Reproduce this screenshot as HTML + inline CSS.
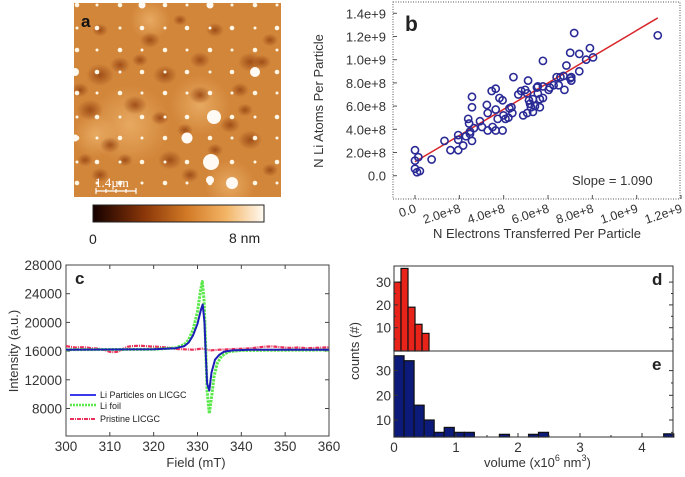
<!DOCTYPE html>
<html><head><meta charset="utf-8"><style>
body{margin:0;background:#fff;}
svg{display:block;font-family:"Liberation Sans",Arial,sans-serif;}
</style></head><body>
<svg id="fig" width="685" height="477" viewBox="0 0 685 477" xmlns="http://www.w3.org/2000/svg">
<defs>
<linearGradient id="cbar" x1="0" x2="1" y1="0" y2="0">
<stop offset="0" stop-color="#140000"/><stop offset="0.3" stop-color="#8a3608"/>
<stop offset="0.55" stop-color="#d27a26"/><stop offset="0.78" stop-color="#f3b566"/>
<stop offset="1" stop-color="#fffaf2"/></linearGradient>
<radialGradient id="dark"><stop offset="0" stop-color="#9a4814" stop-opacity="0.9"/><stop offset="1" stop-color="#9a4814" stop-opacity="0"/></radialGradient>
<radialGradient id="light"><stop offset="0" stop-color="#f0b870" stop-opacity="0.7"/><stop offset="1" stop-color="#f0b870" stop-opacity="0"/></radialGradient>
<clipPath id="afmclip"><rect x="74" y="3" width="207" height="194"/></clipPath>
<clipPath id="bclip"><rect x="393" y="2" width="287" height="197"/></clipPath>
<clipPath id="cclip"><rect x="66" y="265" width="263" height="171"/></clipPath>
</defs>

<!-- Panel a -->
<g id="afm" clip-path="url(#afmclip)">
<rect x="74" y="3" width="207" height="194" fill="#d2863a"/>
</g>
<text x="81" y="27" font-size="17" font-weight="bold" fill="#111">a</text>
<g>
<text x="95" y="187" font-size="13" fill="#fff" font-family="Liberation Serif,serif">1.4µm</text>
<path d="M96 191 H136 M96 188 V194 M106 189 V193 M116 189 V193 M126 189 V193 M136 188 V194" stroke="#fff" stroke-width="1.2"/>
</g>
<rect x="93" y="205" width="171" height="17" fill="url(#cbar)" stroke="#222" stroke-width="1"/>
<text x="89" y="244" font-size="14" fill="#222">0</text>
<text x="229" y="243" font-size="14" fill="#222">8 nm</text>

<!-- Panel b -->
<rect x="393" y="2" width="287" height="197" fill="none" stroke="#555" stroke-width="1" stroke-dasharray="1,1.5"/>
<g id="bAxes"></g>
<g id="bMarks" clip-path="url(#bclip)"></g>
<text x="405" y="31" font-size="21" font-weight="bold" fill="#222">b</text>
<text x="572" y="185" font-size="13" fill="#333">Slope = 1.090</text>
<text transform="translate(323,101) rotate(-90)" text-anchor="middle" font-size="13" fill="#333">N Li Atoms Per Particle</text>
<text x="537" y="238" text-anchor="middle" font-size="13" fill="#333">N Electrons Transferred Per Particle</text>

<!-- Panel c -->
<rect x="66" y="265" width="263" height="171" fill="none" stroke="#444" stroke-width="1"/>
<g id="cAxes"></g>
<g id="cMarks" clip-path="url(#cclip)"></g>
<text x="75" y="284" font-size="17" font-weight="bold" fill="#222">c</text>
<text transform="translate(18,351) rotate(-90)" text-anchor="middle" font-size="13" fill="#333">Intensity (a.u.)</text>
<text x="196" y="467" text-anchor="middle" font-size="13" fill="#333">Field (mT)</text>
<g>
<line x1="70" y1="395" x2="96" y2="395" stroke="#3a3ae8" stroke-width="2"/>
<text x="100" y="398" font-size="9" fill="#222">Li Particles on LICGC</text>
<line x1="70" y1="405" x2="96" y2="405" stroke="#5be84a" stroke-width="2.5" stroke-dasharray="2,1"/>
<text x="100" y="409" font-size="9" fill="#222">Li foil</text>
<line x1="70" y1="419" x2="96" y2="419" stroke="#e8305a" stroke-width="2" stroke-dasharray="4,1,1,1"/>
<text x="100" y="422" font-size="9" fill="#222">Pristine LICGC</text>
</g>

<!-- Panels d/e -->
<g id="deMarks"></g>
<rect x="394" y="266" width="279" height="85" fill="none" stroke="#333" stroke-width="1"/>
<rect x="394" y="351" width="279" height="86" fill="none" stroke="#333" stroke-width="1"/>
<g id="deAxes"></g>
<text x="652" y="285" font-size="17" font-weight="bold" fill="#222">d</text>
<text x="652" y="370" font-size="17" font-weight="bold" fill="#222">e</text>
<text transform="translate(359,351) rotate(-90)" text-anchor="middle" font-size="13" fill="#333">counts (#)</text>
<text x="484" y="467" font-size="13" fill="#333">volume (x10<tspan dy="-6" font-size="9">6</tspan><tspan dy="6"> nm</tspan><tspan dy="-6" font-size="9">3</tspan><tspan dy="6">)</tspan></text>
</svg>
<script>
// ---- Panel b data (units of 1e8) ----
const bX = [0,0,0,0.09,0.22,0.15,0.75,1.33,1.6,1.95,1.95,1.95,2.17,2.4,2.44,2.48,2.48,2.57,2.57,2.57,2.3,2.66,2.93,3.02,3.28,3.24,3.28,3.46,3.64,3.5,3.64,3.64,3.73,3.81,3.95,3.95,3.99,4.08,4.21,4.26,4.35,4.39,4.44,4.66,4.79,4.88,4.97,5.06,5.06,5.1,5.14,5.19,5.23,5.32,5.32,5.41,5.5,5.54,5.63,5.63,5.54,5.77,5.77,5.77,6.03,6.08,6.25,6.48,6.39,6.56,6.7,6.74,7.05,7.05,7.0,7.18,7.0,6.83,7.41,7.41,7.72,7.89,8.03,10.95];
const bY = [2.2,1.3,0.6,0.3,0.4,1.6,1.4,3.0,2.2,2.2,3.5,3.1,2.6,4.9,4.5,3.8,3.6,6.8,5.9,3.0,3.4,4.1,4.7,4.2,3.9,6.1,5.4,7.3,7.5,4.2,3.9,5.7,4.9,6.7,6.5,3.9,5.2,4.9,5.0,5.8,5.9,5.4,8.5,7.0,7.3,5.2,7.4,5.4,7.1,8.2,6.5,6.2,5.9,5.5,6.6,6.0,7.6,7.1,6.6,5.9,7.7,7.7,6.7,9.9,7.4,7.6,7.8,7.8,8.5,8.5,8.6,7.4,8.5,8.2,8.4,12.3,10.6,9.5,10.5,9.0,10.0,11.0,10.2,12.1];
const fitX = [0,10.95];
const fitY = [1.2,13.6];
const bYTicks = [0,2,4,6,8,10,12,14];
const bYTickLabels = ["0.0","2.0e+8","4.0e+8","6.0e+8","8.0e+8","1.0e+9","1.2e+9","1.4e+9"];
const bXTicks = [0,2,4,6,8,10,12];
const bXTickLabels = ["0.0","2.0e+8","4.0e+8","6.0e+8","8.0e+8","1.0e+9","1.2e+9"];

// ---- Panel c data ----
const blueF = [300,320,325,327,328,329,330,330.8,331.2,331.6,331.9,332.2,332.7,333.2,334,335,336,338,342,360];
const blueI = [16200,16250,16400,16700,17200,18200,19800,21800,22500,20000,15500,11500,10500,13000,14800,15500,15900,16100,16200,16200];
const greenF = [300,320,325,327,328,329,330,330.7,331.1,331.5,331.9,332.2,332.7,333.2,333.8,334.5,335.5,337,340,360];
const greenI = [16200,16250,16450,16900,17600,19000,21500,24500,25700,23000,16000,10500,7300,9500,12500,14300,15300,15900,16100,16150];
const redF = [300,302,304,306,308,309,310,311,312,313,314,315,317,319,321,323,325,327,329,331,333,335,337,339,341,343,345,347,349,351,353,355,357,360];
const redI = [16700,16500,16550,16400,16300,16100,15900,15850,15950,16300,16600,16700,16750,16650,16600,16500,16300,16250,16200,16350,16100,16200,16250,16300,16350,16450,16600,16650,16550,16450,16500,16400,16450,16550];
const cXTicks = [300,310,320,330,340,350,360];
const cYTicks = [8000,12000,16000,20000,24000,28000];

// ---- Panels d/e data ----
const dBinStart = [0,0.113,0.226,0.339,0.452];
const dCounts = [30,36,19,11.5,7.5];
const dBinWidth = 0.113;
const eBinStart = [0,0.162,0.324,0.486,0.648,0.81,0.972,1.134,1.70,2.17,2.33,4.35];
const eCounts = [36,34,16,10,5,7,5,5,4.2,4.2,5,4.4];
const eBinWidth = 0.162;
const deXTicks = [0,1,2,3,4];
const dYTicks = [10,20,30];
const eYTicks = [10,20,30];

const NS = "http://www.w3.org/2000/svg";
function mk(tag, attrs, parent){const e=document.createElementNS(NS,tag);for(const k in attrs)e.setAttribute(k,attrs[k]);parent.appendChild(e);return e;}

// Panel a texture (decorative image, not chart data)
(function(){
  const g=document.getElementById('afm');
  const lights=[[130,125,40],[200,105,30],[95,135,22],[230,185,25],[150,20,20]];
  lights.forEach(d=>mk('circle',{cx:d[0],cy:d[1],r:d[2],fill:'url(#light)'},g));
  const darks=[[100,75,14],[120,65,10],[165,75,12],[200,60,10],[250,62,12],[240,90,9],[90,110,13],[135,105,12],[200,95,11],[230,125,10],[110,145,10],[170,160,12],[250,140,12],[150,40,10],[215,30,9],[100,175,9],[270,170,8],[185,130,8],[262,62,9],[80,90,9],[125,160,8],[160,118,9],[245,110,8],[270,40,8],[100,30,8],[190,175,9],[140,60,8],[215,150,8],[85,160,8],[180,20,7]];
  darks.forEach(d=>mk('ellipse',{cx:d[0],cy:d[1],rx:d[2],ry:d[2]*0.8,fill:'url(#dark)'},g));
  const cols=[77,97,120,142,165,187,210,232,255,277];
  const rows=[5,28,50,72,93,117,138,162,183];
  rows.forEach((y,ri)=>cols.forEach((x,ci)=>{
    const r=((ri+ci)%2===0)?2.3:1.5;
    mk('circle',{cx:x,cy:y,r:r,fill:'#fff6e6'},g);
  }));
  [[255,72,5],[214,117,7],[187,138,5.5],[211,162,8],[232,183,6],[210,180,4],[142,5,3.5],[210,5,3.5],[75,72,4],[75,138,3.5]].forEach(d=>mk('circle',{cx:d[0],cy:d[1],r:d[2],fill:'#fffaf4'},g));
})();

// Panel b
const bx=v=>415+v*22.17, by=v=>175.7-v*11.6;
(function(){
  const ax=document.getElementById('bAxes'), mg=document.getElementById('bMarks');
  bYTicks.forEach((t,i)=>{
    const y=by(t);
    mk('line',{x1:393,x2:397,y1:y,y2:y,stroke:'#555'},ax);
    const tx=mk('text',{x:386,y:y+5,'text-anchor':'end','font-size':13,fill:'#333'},ax);
    tx.textContent=bYTickLabels[i];
    
    
  });
  bXTicks.forEach((t,i)=>{
    const x=bx(t);
    mk('line',{x1:x,x2:x,y1:199,y2:195,stroke:'#555'},ax);
    const tx=mk('text',{x:x+2,y:212,'text-anchor':'end','font-size':12.5,fill:'#333',transform:`rotate(-18 ${x+2} 212)`},ax);
    tx.textContent=bXTickLabels[i];
    
    
  });
  const fl=mk('line',{x1:bx(fitX[0]),y1:by(fitY[0]),x2:bx(fitX[1]),y2:by(fitY[1]),stroke:'#d8262a','stroke-width':1.5},mg);
  
  
  bX.forEach((v,i)=>{
    const c=mk('circle',{cx:bx(v),cy:by(bY[i]),r:3.6,fill:'none',stroke:'#2a2a96','stroke-width':1.6},mg);
    
    
  });
})();

// Panel c
const cx=v=>66+(v-300)*4.383, cy=v=>265+(28000-v)*0.007175;
(function(){
  const ax=document.getElementById('cAxes'), mg=document.getElementById('cMarks');
  cYTicks.forEach(t=>{
    const y=cy(t);
    mk('line',{x1:66,x2:70,y1:y,y2:y,stroke:'#444'},ax);
    mk('line',{x1:329,x2:325,y1:y,y2:y,stroke:'#444'},ax);
    const tx=mk('text',{x:62,y:y+5,'text-anchor':'end','font-size':13.5,fill:'#333'},ax);
    tx.textContent=t;
    
    
  });
  cXTicks.forEach(t=>{
    const x=cx(t);
    mk('line',{x1:x,x2:x,y1:436,y2:432,stroke:'#444'},ax);
    mk('line',{x1:x,x2:x,y1:265,y2:269,stroke:'#444'},ax);
    const tx=mk('text',{x:x,y:451,'text-anchor':'middle','font-size':13.5,fill:'#333'},ax);
    tx.textContent=t;
    
    
  });
  const path=(F,I)=>F.map((f,i)=>(i?'L':'M')+cx(f).toFixed(1)+' '+cy(I[i]).toFixed(1)).join(' ');
  const r=mk('path',{d:path(redF,redI),fill:'none',stroke:'#e8305a','stroke-width':2.2,'stroke-dasharray':'4,1,1,1'},mg);
  
  
  const g=mk('path',{d:path(greenF,greenI),fill:'none',stroke:'#5be84a','stroke-width':3,'stroke-dasharray':'2.5,1','stroke-linejoin':'round'},mg);
  
  
  const b=mk('path',{d:path(blueF,blueI),fill:'none',stroke:'#1d1db8','stroke-width':2,'stroke-linejoin':'round'},mg);
  
  
})();

// Panels d/e
const hx=v=>394+v*62;
const dy=v=>350.5-v*2.28;
const ey=v=>444.7-v*2.47;
(function(){
  const ax=document.getElementById('deAxes'), mg=document.getElementById('deMarks');
  dBinStart.forEach((s,i)=>{
    const y=Math.max(dy(dCounts[i]),266);
    const r=mk('rect',{x:hx(s),y:y,width:dBinWidth*62,height:351-y,fill:'#e8231a',stroke:'#111','stroke-width':1.2},mg);
    
    
  });
  eBinStart.forEach((s,i)=>{
    const y=ey(eCounts[i]);
    const r=mk('rect',{x:hx(s),y:y,width:eBinWidth*62,height:437-y,fill:'#0c1a7a',stroke:'#111','stroke-width':1.2},mg);
    
    
  });
  dYTicks.forEach(t=>{
    const y=dy(t);
    mk('line',{x1:394,x2:398,y1:y,y2:y,stroke:'#333'},ax);
    mk('line',{x1:673,x2:669,y1:y,y2:y,stroke:'#333'},ax);
    mk('line',{x1:394,x2:396,y1:dy(t-5),y2:dy(t-5),stroke:'#333'},ax);
    mk('line',{x1:673,x2:671,y1:dy(t-5),y2:dy(t-5),stroke:'#333'},ax);
    const tx=mk('text',{x:391,y:y+5,'text-anchor':'end','font-size':13.5,fill:'#333'},ax);
    tx.textContent=t;
    
    
  });
  eYTicks.forEach(t=>{
    const y=ey(t);
    mk('line',{x1:394,x2:398,y1:y,y2:y,stroke:'#333'},ax);
    mk('line',{x1:673,x2:669,y1:y,y2:y,stroke:'#333'},ax);
    mk('line',{x1:673,x2:671,y1:ey(t-5),y2:ey(t-5),stroke:'#333'},ax);
    const tx=mk('text',{x:391,y:y+5,'text-anchor':'end','font-size':13.5,fill:'#333'},ax);
    tx.textContent=t;
    
    
  });
  deXTicks.forEach(t=>{
    const x=hx(t);
    mk('line',{x1:x,x2:x,y1:437,y2:433,stroke:'#333'},ax);
    mk('line',{x1:x+31,x2:x+31,y1:437,y2:435,stroke:'#333'},ax);
    const tx=mk('text',{x:x,y:452,'text-anchor':'middle','font-size':13.5,fill:'#333'},ax);
    tx.textContent=t;
    
    
  });
})();
</script>
</body></html>
